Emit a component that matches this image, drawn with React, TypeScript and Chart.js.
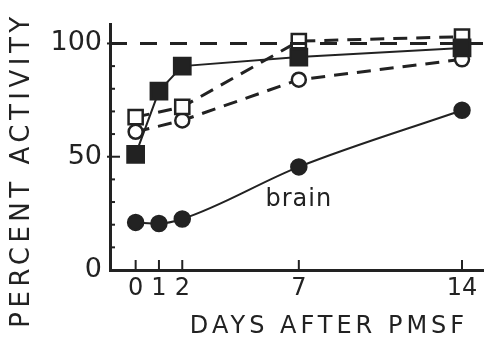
import { useEffect, useRef } from 'react';
import { Chart, registerables } from 'chart.js';
Chart.register(...registerables);

// ---- data ----
const DAYS_SQ_FILLED = [0, 1, 2, 7, 14];
const SQ_FILLED = [51, 79, 90, 94, 98];
const DAYS_SQ_OPEN = [0, 2, 7, 14];
const SQ_OPEN = [67.5, 72, 101, 103];
const DAYS_CIRC_OPEN = [0, 2, 7, 14];
const CIRC_OPEN = [61, 66, 84, 93];
const DAYS_BRAIN = [0, 1, 2, 7, 14];
const BRAIN = [21, 20.5, 22.5, 45.5, 70.5];
const X_TICKS = [0, 1, 2, 7, 14];
const Y_TICKS = [0, 50, 100];
const REF_LEVEL = 100;
const BRAIN_LABEL = 'brain';
const BRAIN_LABEL_AT = [7, 31];
const X_TITLE = 'DAYS AFTER PMSF';
const Y_TITLE = 'PERCENT ACTIVITY';

const X_MIN = -1.1;
const X_MAX = 14.9;
const Y_MIN = 0;
const Y_MAX = 108.5;

const INK = '#222';

const pts = (xs: number[], ys: number[]) => xs.map((x, i) => ({ x, y: ys[i] }));

const decorPlugin = {
  id: 'decor',
  afterDraw(chart: any) {
    const ctx = chart.ctx as CanvasRenderingContext2D;
    const xs = chart.scales.x;
    const ys = chart.scales.y;
    const area = chart.chartArea;
    ctx.save();
    ctx.strokeStyle = INK;
    ctx.fillStyle = INK;
    ctx.lineWidth = 2;
    // x tick marks (inward)
    X_TICKS.forEach((v) => {
      const px = xs.getPixelForValue(v);
      ctx.beginPath();
      ctx.moveTo(px, area.bottom);
      ctx.lineTo(px, area.bottom - 10);
      ctx.stroke();
    });
    // y tick marks every 10 (inward), major ones longer
    for (let v = 10; v <= 100; v += 10) {
      const py = ys.getPixelForValue(v);
      const major = v % 50 === 0;
      ctx.beginPath();
      ctx.moveTo(area.left - (major ? 3 : 0), py);
      ctx.lineTo(area.left + (major ? 10 : 5), py);
      ctx.stroke();
    }
    // brain label
    (ctx as any).letterSpacing = '1px';
    ctx.font = '24px "DejaVu Sans"';
    ctx.textAlign = 'center';
    ctx.textBaseline = 'middle';
    ctx.fillText(BRAIN_LABEL, xs.getPixelForValue(BRAIN_LABEL_AT[0]), ys.getPixelForValue(BRAIN_LABEL_AT[1]));
    // x title
    (ctx as any).letterSpacing = '4px';
    ctx.font = '24px "DejaVu Sans"';
    ctx.fillText(X_TITLE, 329, 327);
    // y title
    ctx.translate(22, 172);
    ctx.rotate(-Math.PI / 2);
    (ctx as any).letterSpacing = '4.5px';
    ctx.font = '26px "DejaVu Sans"';
    ctx.fillText(Y_TITLE, 2, 0);
    ctx.restore();
    (ctx as any).letterSpacing = '0px';
  },
};

export default function App() {
  const ref = useRef<HTMLCanvasElement | null>(null);
  useEffect(() => {
    if (!ref.current) return;
    const line = { borderColor: INK, pointBorderColor: INK, pointBorderWidth: 2.5 };
    const chart = new Chart(ref.current, {
      type: 'line',
      data: {
        datasets: [
          {
            data: pts([X_MIN, X_MAX], [REF_LEVEL, REF_LEVEL]),
            borderColor: INK,
            borderWidth: 3,
            borderDash: [17, 13],
            pointRadius: 0,
          },
          {
            ...line,
            data: pts(DAYS_SQ_FILLED, SQ_FILLED),
            borderWidth: 2,
            pointStyle: 'rect',
            pointRadius: 11.5,
            pointBackgroundColor: INK,
          },
          {
            ...line,
            data: pts(DAYS_SQ_OPEN, SQ_OPEN),
            borderWidth: 3,
            borderDash: [14, 9],
            pointStyle: 'rect',
            pointRadius: 10,
            pointBackgroundColor: '#fff',
          },
          {
            ...line,
            data: pts(DAYS_CIRC_OPEN, CIRC_OPEN),
            borderWidth: 3,
            borderDash: [14, 9],
            pointStyle: 'circle',
            pointRadius: 7,
            pointBackgroundColor: '#fff',
          },
          {
            ...line,
            data: pts(DAYS_BRAIN, BRAIN),
            borderWidth: 2,
            cubicInterpolationMode: 'monotone',
            pointStyle: 'circle',
            pointRadius: 7.5,
            pointBackgroundColor: INK,
          },
        ],
      },
      options: {
        animation: false,
        responsive: true,
        maintainAspectRatio: false,
        layout: { padding: { top: 13, right: 0, left: 0, bottom: 0 } },
        plugins: { legend: { display: false }, tooltip: { enabled: false } },
        scales: {
          x: {
            type: 'linear',
            min: X_MIN,
            max: X_MAX,
            afterBuildTicks: (s: any) => {
              s.ticks = X_TICKS.map((value) => ({ value }));
            },
            afterFit: (s: any) => {
              s.height = 71;
            },
            grid: { display: false, drawTicks: false },
            border: { display: true, color: INK, width: 3 },
            ticks: {
              color: INK,
              font: { family: 'DejaVu Sans', size: 24 },
              padding: 4,
              autoSkip: false,
              maxRotation: 0,
            },
          },
          y: {
            type: 'linear',
            min: Y_MIN,
            max: Y_MAX,
            afterBuildTicks: (s: any) => {
              s.ticks = Y_TICKS.map((value) => ({ value }));
            },
            afterFit: (s: any) => {
              s.width = 110;
            },
            grid: { display: false, drawTicks: false },
            border: { display: true, color: INK, width: 3 },
            ticks: {
              color: INK,
              font: { family: 'DejaVu Sans', size: 27 },
              padding: 8,
            },
          },
        },
      },
      plugins: [decorPlugin],
    });
    return () => chart.destroy();
  }, []);
  return (
    <div style={{ position: 'absolute', left: 0, top: 0, width: 497, height: 341, background: '#fff' }}>
      <canvas ref={ref} />
    </div>
  );
}
